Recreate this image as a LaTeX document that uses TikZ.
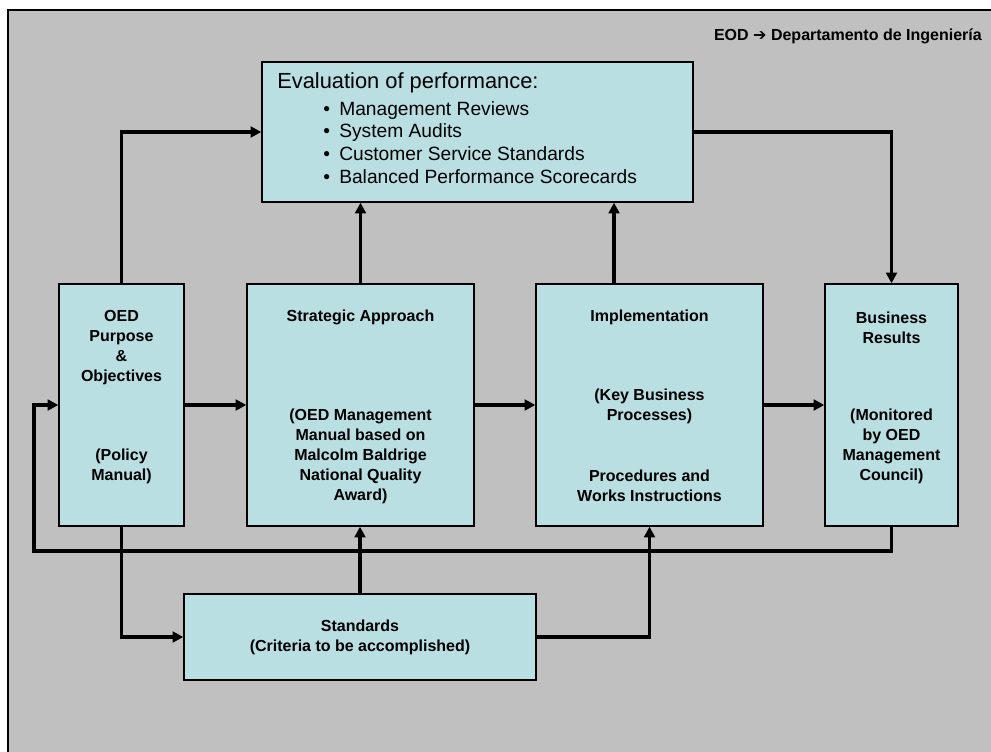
\documentclass[tikz,border=0pt]{standalone}
\usepackage{fontspec}
\setmainfont{Liberation Sans}
\newfontfamily\arrowfont{DejaVu Sans}
\usetikzlibrary{arrows.meta,calc}

\definecolor{slidegray}{RGB}{192,192,192}
\definecolor{boxcyan}{RGB}{185,223,227}

\tikzset{
  box/.style={draw=black,line width=1pt,fill=boxcyan,inner sep=0pt},
  conn/.style={line width=2.8pt,-{Triangle[length=8pt,width=8pt]}},
  boxtext/.style={align=center,inner sep=0pt,font=\fontsize{12}{15}\selectfont\bfseries},
}

\begin{document}
\begin{tikzpicture}[x=0.75pt,y=-0.75pt]
	\useasboundingbox (0,0) rectangle (991,752);
	\fill[white] (0,0) rectangle (991,752);
	\fill[slidegray] (7.7,10) rectangle (991,752);
	\draw[line width=1.7pt] (7.7,752)--(7.7,10)--(991,10);

	\node[anchor=base east,inner sep=0pt,font=\fontsize{12}{14}\selectfont\bfseries] (dept) at (982,41) {EOD {\arrowfont ➔} Departamento de Ingeniería};

	\node[box,minimum width=323.25pt,minimum height=105pt] (eval) at (477.5,132) {};
	\node[anchor=west,inner sep=0pt,font=\fontsize{16.4}{20}\selectfont] (evaltitle) at (277,83.3) {Evaluation of performance:};
	\node[anchor=west,inner sep=0pt,align=left,font=\fontsize{14.4}{17.1}\selectfont] (evallist) at (323,142.5)
		{\makebox[12pt][l]{\textbullet}Management Reviews\\
		 \makebox[12pt][l]{\textbullet}System Audits\\
		 \makebox[12pt][l]{\textbullet}Customer Service Standards\\
		 \makebox[12pt][l]{\textbullet}Balanced Performance Scorecards};

	\node[box,minimum width=93.75pt,minimum height=181.5pt] (oed) at (121.5,405) {};
	\node[box,minimum width=170.25pt,minimum height=181.5pt] (strat) at (360.5,405) {};
	\node[box,minimum width=170.25pt,minimum height=181.5pt] (impl) at (649.5,405) {};
	\node[box,minimum width=99.75pt,minimum height=181.5pt] (biz) at (891.5,405) {};
	\node[box,boxtext,minimum width=264pt,minimum height=64.5pt] (std) at (360,637) {Standards\\(Criteria to be accomplished)};

	\node[boxtext] (oedtop) at (121.5,347.2) {OED\\Purpose\\\&\\Objectives};
	\node[boxtext] (oedbot) at (121.5,466.7) {(Policy\\Manual)};
	\node[boxtext] (strattop) at (360.5,317.7) {Strategic Approach};
	\node[boxtext] (stratbot) at (360.5,456.7) {(OED Management\\Manual based on\\Malcolm Baldrige\\National Quality\\Award)};
	\node[boxtext] (impltop) at (649.5,317.7) {Implementation};
	\node[boxtext] (implmid) at (649.5,406.7) {(Key Business\\Processes)};
	\node[boxtext] (implbot) at (649.5,486.2) {Procedures and\\Works Instructions};
	\node[boxtext] (biztop) at (891.5,327.7) {Business\\Results};
	\node[boxtext] (bizbot) at (891.5,446.7) {(Monitored\\by OED\\Management\\Council)};

	\coordinate (implup) at ($(impl.north)+(-35.5,0)$);
	\coordinate (loopcorner) at (34,551);

	\draw[conn] (oed.north) |- (eval.west);
	\draw[conn] (strat.north) -- (strat.north |- eval.south);
	\draw[conn] (implup) -- (implup |- eval.south);
	\draw[conn] (eval.east) -| (biz.north);
	\draw[conn] (oed.east) -- (strat.west);
	\draw[conn] (strat.east) -- (impl.west);
	\draw[conn] (impl.east) -- (biz.west);
	\draw[conn] (biz.south) |- (loopcorner) |- (oed.west);
	\draw[conn] (oed.south) |- (std.west);
	\draw[conn] (std.north) -- (std.north |- strat.south);
	\draw[conn] (std.east) -| (impl.south);
\end{tikzpicture}
\end{document}
